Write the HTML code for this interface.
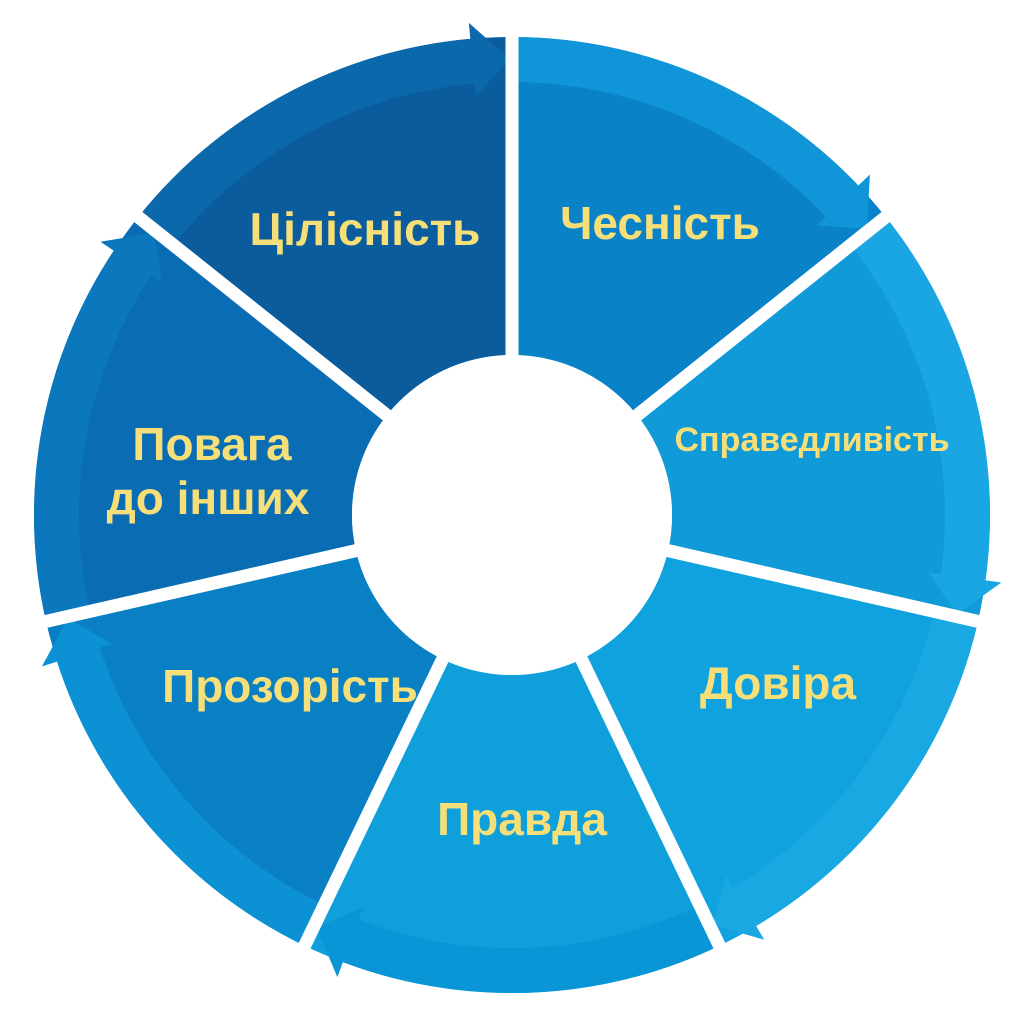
<!DOCTYPE html>
<html><head><meta charset="utf-8"><style>
html,body{margin:0;padding:0;background:#fff;width:1024px;height:1024px;overflow:hidden}
text{font-family:"Liberation Sans","DejaVu Sans",sans-serif;font-weight:bold;fill:#f6de78}
</style></head><body>
<svg id="s" width="1024" height="1024" viewBox="0 0 1024 1024" xmlns="http://www.w3.org/2000/svg">
<g id="g"></g>
<circle cx="512" cy="515" r="160" fill="#fff"/>
<text x="365" y="245" font-size="46" text-anchor="middle">Цілісність</text>
<text x="660" y="239" font-size="46" text-anchor="middle">Чесність</text>
<text x="812" y="451" font-size="34" text-anchor="middle">Справедливість</text>
<text x="778" y="699" font-size="46" text-anchor="middle">Довіра</text>
<text x="522" y="835" font-size="46" text-anchor="middle">Правда</text>
<text x="290" y="702" font-size="46" text-anchor="middle">Прозорість</text>
<text x="212" y="460" font-size="46" text-anchor="middle">Повага</text>
<text x="208" y="514" font-size="46" text-anchor="middle">до інших</text>
</svg>
<script>
var cx=512,cy=515,R=478,rb=433,r=160,g=document.getElementById('g');
var main=['#0a82c8','#109ad8','#10a2de','#0fa0dc','#0a80c4','#0a6cb2','#0a5c9c'];
var band=['#1096d8','#1aa6e2','#1aa8e2','#0a96d6','#0c92d4','#0b78bd','#0b68ab'];
function P(a,rad){a=a*Math.PI/180;return (cx+rad*Math.cos(a)).toFixed(1)+','+(cy+rad*Math.sin(a)).toFixed(1);}
function sector(a1,a2,r1,r2){return 'M'+P(a1,r1)+' L'+P(a1,r2)+' A'+r2+','+r2+' 0 0 1 '+P(a2,r2)+' L'+P(a2,r1)+' A'+r1+','+r1+' 0 0 0 '+P(a1,r1)+'Z';}
var h='',step=360/7;
for(var k=0;k<7;k++){
 var a1=-90+k*step,a2=a1+step;
 h+='<path d="'+sector(a1,a2,r,R)+'" fill="'+main[k]+'"/>';
 h+='<path d="'+sector(a1,a2-4,rb,R)+'" fill="'+band[k]+'"/>';
 h+='<path d="M'+P(a2-5,420)+' L'+P(a2-5,494)+' L'+P(a2-0.3,456)+'Z" fill="'+band[k]+'"/>';
}
for(var k=0;k<7;k++){var a=-90+k*step;var p1=P(a,r-5).split(','),p2=P(a,500).split(',');h+='<line x1="'+p1[0]+'" y1="'+p1[1]+'" x2="'+p2[0]+'" y2="'+p2[1]+'" stroke="#fff" stroke-width="13"/>';}
g.innerHTML=h;
</script>
</body></html>
